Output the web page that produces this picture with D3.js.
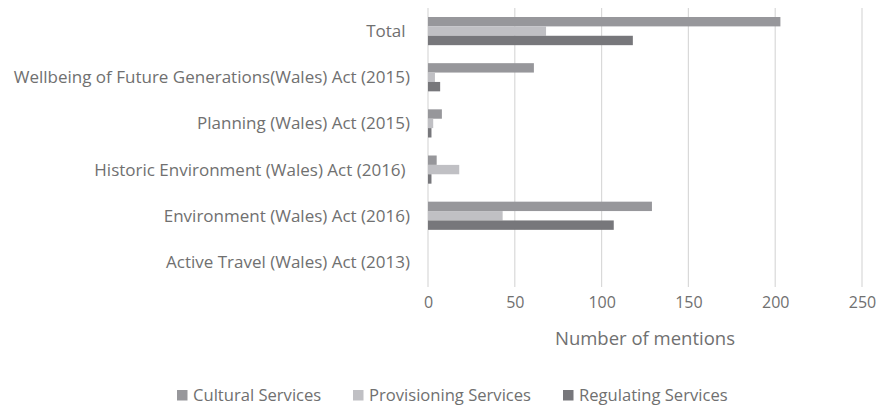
<!DOCTYPE html>
<html>
<head>
<meta charset="utf-8">
<script src="https://cdn.jsdelivr.net/npm/d3@7"></script>
<style>
  body { margin: 0; background: #fff; }
  text { font-family: "Open Sans", sans-serif; fill: #707070; }
</style>
</head>
<body>
<svg id="chart" width="877" height="407"></svg>
<script>
// categories top to bottom
var acts = ["Total ",
  "Wellbeing of Future Generations(Wales) Act (2015)",
  "Planning (Wales) Act (2015)",
  "Historic Environment (Wales) Act (2016) ",
  "Environment (Wales) Act (2016)",
  "Active Travel (Wales) Act (2013)"];
var seriesNames = ["Cultural Services", "Provisioning Services", "Regulating Services"];
var cultural = [203, 61, 8, 5, 129, 0];
var provisioning = [68, 4, 3, 18, 43, 0];
var regulating = [118, 7, 2, 2, 107, 0];
var xTicks = [0, 50, 100, 150, 200, 250];
var colours = ["#97979b", "#c0c0c4", "#77777b"];

var svg = d3.select("#chart");
var margin = {top: 8, left: 428, right: 15, bottom: 122};
var width = 877 - margin.left - margin.right,
    height = 407 - margin.top - margin.bottom;

var x = d3.scaleLinear().domain([0, 250]).range([0, 862 - margin.left]);
var y = d3.scaleBand().domain(acts).range([0, height]).paddingInner(0.39).paddingOuter(0.195);
var ySub = d3.scaleBand().domain(seriesNames).range([0, y.bandwidth()]);

var g = svg.append("g").attr("transform", "translate(" + margin.left + "," + margin.top + ")");

// gridlines
g.selectAll(".grid").data(xTicks).enter().append("line")
  .attr("x1", function(d) { return x(d); }).attr("x2", function(d) { return x(d); })
  .attr("y1", 0).attr("y2", height + 2)
  .attr("stroke", "#d9d9d9").attr("stroke-width", 1.2);

var rows = acts.map(function(a, i) {
  return {act: a, vals: [cultural[i], provisioning[i], regulating[i]]};
});

var grp = g.selectAll(".row").data(rows).enter().append("g")
  .attr("transform", function(d) { return "translate(0," + y(d.act) + ")"; });

grp.selectAll("rect").data(function(d) {
  return d.vals.map(function(v, j) { return {name: seriesNames[j], v: v, j: j}; });
}).enter().append("rect")
  .attr("x", x(0))
  .attr("y", function(d) { return ySub(d.name); })
  .attr("height", ySub.bandwidth())
  .attr("width", function(d) { return x(d.v) - x(0); })
  .attr("fill", function(d) { return colours[d.j]; });

// category labels
g.selectAll(".cat").data(acts).enter().append("text")
  .attr("x", -18)
  .attr("y", function(d) { return y(d) + y.bandwidth() / 2; })
  .attr("dy", "0.35em")
  .attr("text-anchor", "end")
  .style("font-size", "17px")
  .attr("xml:space", "preserve")
  .text(function(d) { return d; });

// x axis labels
var xAxis = g.append("g").attr("transform", "translate(0," + height + ")")
  .call(d3.axisBottom(x).tickValues(xTicks).tickSize(0).tickPadding(12));
xAxis.select(".domain").remove();
xAxis.selectAll("text").style("font-size", "16px").style("font-family", "'Open Sans', sans-serif").attr("fill", null);

svg.append("text").attr("x", 645).attr("y", 345)
  .attr("text-anchor", "middle").style("font-size", "18.5px")
  .text("Number of mentions");

// legend
var legX = [177, 353, 563];
var leg = svg.selectAll(".leg").data(seriesNames).enter().append("g")
  .attr("transform", function(d, i) { return "translate(" + legX[i] + ",390)"; });
leg.append("rect").attr("width", 10.5).attr("height", 10.5).attr("fill", function(d, i) { return colours[i]; });
leg.append("text").attr("x", 16).attr("y", 5).attr("dy", "0.35em")
  .style("font-size", "16.6px").text(function(d) { return d; });
</script>
</body>
</html>
